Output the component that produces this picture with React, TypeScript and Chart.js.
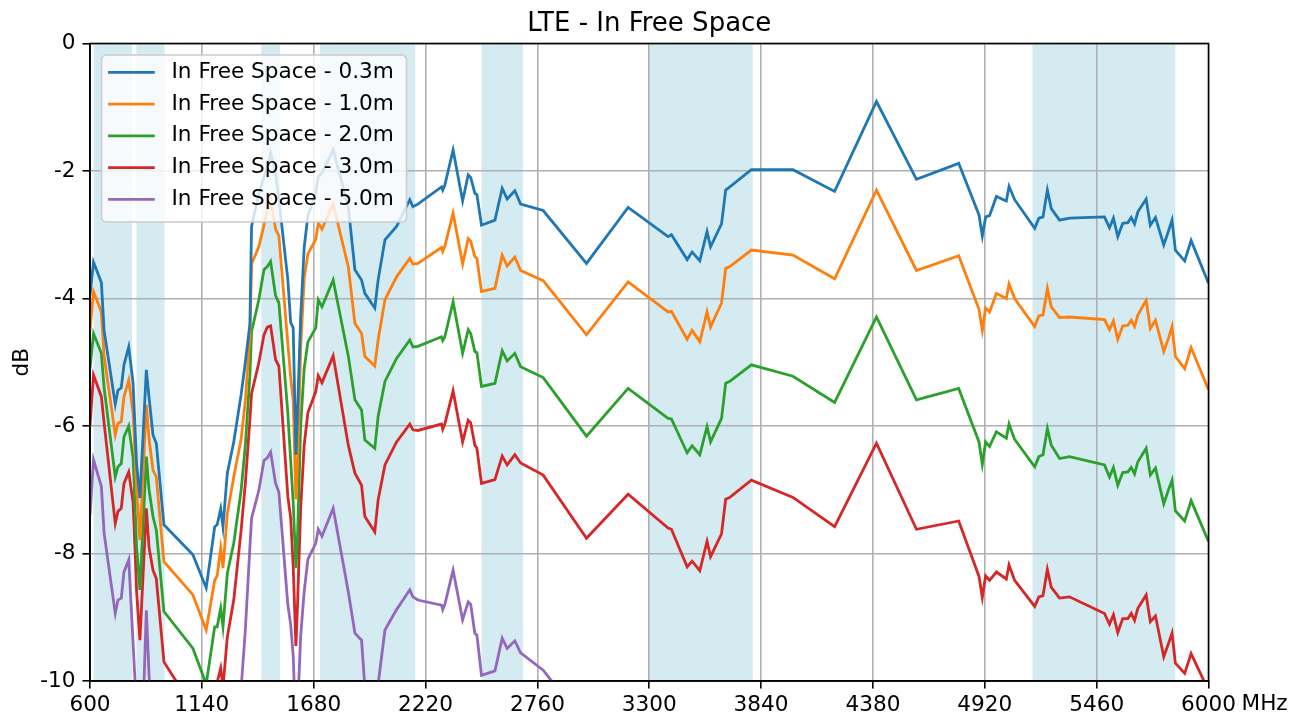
import React, { useEffect, useRef } from "react";
import { Chart, registerables } from "chart.js";

Chart.register(...registerables);

// Measurement frequencies (MHz)
const freqs = [
  600, 617, 655, 668, 722, 735, 751, 764, 787, 808,
  825, 841, 872, 885, 904, 920, 957, 1097, 1161, 1202,
  1214, 1231, 1242, 1263, 1294, 1330, 1350, 1372, 1380, 1415,
  1440, 1456, 1472, 1496, 1512, 1555, 1569, 1581, 1594, 1602,
  1617, 1634, 1652, 1690, 1702, 1720, 1774, 1847, 1879, 1911,
  1927, 1975, 1991, 2024, 2080, 2144, 2159, 2183, 2297, 2303,
  2313, 2353, 2399, 2426, 2438, 2458, 2468, 2490, 2555, 2590,
  2614, 2651, 2679, 2788, 2997, 3198, 3391, 3407, 3483, 3507,
  3544, 3579, 3596, 3649, 3669, 3689, 3793, 3994, 4195, 4397,
  4590, 4794, 4892, 4908, 4924, 4943, 4976, 5024, 5037, 5064,
  5161, 5181, 5201, 5222, 5241, 5281, 5329, 5498, 5522, 5541,
  5562, 5586, 5611, 5627, 5643, 5659, 5699, 5719, 5744, 5784,
  5808, 5824, 5840, 5885, 5916, 6000,
];

// Received level relative to reference (dB) per distance
const loss03m = [
  -3.95, -3.43, -3.75, -4.5, -5.66, -5.44, -5.4, -5.04, -4.76, -5.33,
  -6.6, -7.13, -5.12, -5.55, -6.14, -6.27, -7.55, -8.02, -8.54, -7.58,
  -7.55, -7.3, -7.58, -6.74, -6.25, -5.5, -5.0, -4.4, -2.87, -2.35,
  -2.1, -1.95, -1.72, -2.03, -2.45, -3.7, -4.38, -4.46, -6.45, -5.75,
  -4.3, -3.2, -2.7, -2.35, -2.09, -2.03, -1.67, -2.56, -3.55, -3.71,
  -3.92, -4.15, -3.71, -3.08, -2.87, -2.45, -2.56, -2.52, -2.25, -2.3,
  -2.22, -1.67, -2.47, -2.06, -2.1, -2.35, -2.37, -2.85, -2.77, -2.27,
  -2.44, -2.31, -2.52, -2.62, -3.45, -2.57, -3.03, -3.0, -3.39, -3.27,
  -3.41, -2.95, -3.19, -2.83, -2.3, -2.25, -1.98, -1.98, -2.32, -0.91,
  -2.13, -1.88, -2.69, -3.02, -2.72, -2.7, -2.4, -2.47, -2.24, -2.45,
  -2.9, -2.74, -2.72, -2.3, -2.59, -2.77, -2.74, -2.72, -2.89, -2.74,
  -3.03, -2.82, -2.81, -2.73, -2.83, -2.64, -2.44, -2.85, -2.73, -3.16,
  -2.93, -2.77, -3.24, -3.41, -3.09, -3.76,
];

const loss10m = [
  -4.5, -3.89, -4.21, -4.9, -6.14, -5.96, -5.93, -5.54, -5.28, -5.8,
  -7.0, -7.79, -5.67, -6.2, -6.69, -6.8, -8.13, -8.65, -9.2, -8.42,
  -8.35, -7.92, -8.23, -7.37, -6.8, -6.2, -5.6, -4.6, -3.46, -3.19,
  -2.85, -2.6, -2.45, -2.91, -3.02, -4.7, -5.24, -5.6, -7.15, -6.6,
  -4.8, -3.68, -3.3, -3.07, -2.82, -2.91, -2.52, -3.5, -4.39, -4.55,
  -4.91, -5.06, -4.65, -4.02, -3.66, -3.37, -3.46, -3.45, -3.2, -3.26,
  -3.18, -2.66, -3.46, -3.06, -3.1, -3.34, -3.37, -3.89, -3.84, -3.32,
  -3.49, -3.35, -3.56, -3.72, -4.57, -3.74, -4.21, -4.2, -4.64, -4.5,
  -4.68, -4.21, -4.45, -4.07, -3.53, -3.5, -3.24, -3.32, -3.69, -2.3,
  -3.56, -3.33, -4.17, -4.5, -4.15, -4.21, -3.92, -4.0, -3.77, -4.0,
  -4.44, -4.27, -4.26, -3.84, -4.13, -4.3, -4.29, -4.33, -4.49, -4.35,
  -4.64, -4.43, -4.42, -4.34, -4.44, -4.26, -4.03, -4.47, -4.34, -4.83,
  -4.61, -4.44, -4.91, -5.1, -4.77, -5.43,
];

const loss20m = [
  -5.1, -4.55, -4.86, -5.4, -6.8, -6.64, -6.59, -6.17, -6.0, -6.5,
  -7.9, -8.57, -6.48, -7.0, -7.42, -7.63, -8.91, -9.49, -10.05, -9.15,
  -9.15, -8.86, -9.15, -8.31, -7.84, -7.0, -6.3, -5.2, -4.52, -4.02,
  -3.55, -3.5, -3.42, -3.96, -4.07, -5.79, -6.55, -7.2, -8.23, -7.73,
  -6.0, -5.1, -4.68, -4.46, -4.02, -4.13, -3.71, -4.9, -5.59, -5.75,
  -6.22, -6.35, -5.85, -5.3, -4.94, -4.65, -4.76, -4.75, -4.6, -4.66,
  -4.6, -4.05, -4.86, -4.49, -4.55, -4.83, -4.85, -5.38, -5.33, -4.82,
  -4.98, -4.86, -5.07, -5.24, -6.16, -5.41, -5.88, -5.89, -6.42, -6.31,
  -6.45, -6.01, -6.25, -5.88, -5.33, -5.3, -5.04, -5.22, -5.63, -4.29,
  -5.59, -5.41, -6.25, -6.6, -6.25, -6.32, -6.09, -6.19, -5.97, -6.21,
  -6.64, -6.48, -6.45, -6.04, -6.3, -6.51, -6.48, -6.61, -6.8, -6.65,
  -6.93, -6.73, -6.72, -6.65, -6.75, -6.56, -6.35, -6.77, -6.66, -7.22,
  -6.99, -6.85, -7.33, -7.49, -7.17, -7.81,
];

const loss30m = [
  -6.0, -5.2, -5.54, -5.95, -7.53, -7.34, -7.29, -6.9, -6.72, -7.2,
  -8.6, -9.36, -7.29, -7.9, -8.26, -8.39, -9.7, -10.42, -10.9, -10.3,
  -10.02, -9.8, -10.1, -9.31, -8.73, -7.62, -6.9, -5.9, -5.49, -5.01,
  -4.57, -4.45, -4.43, -4.96, -5.06, -7.1, -7.45, -8.2, -9.45, -8.8,
  -7.3, -6.3, -5.79, -5.46, -5.21, -5.32, -4.9, -6.3, -6.74, -6.93,
  -7.42, -7.66, -7.16, -6.61, -6.25, -5.97, -6.06, -6.07, -5.97, -6.05,
  -5.97, -5.45, -6.25, -5.91, -5.95, -6.3, -6.35, -6.9, -6.84, -6.47,
  -6.61, -6.45, -6.58, -6.77, -7.76, -7.07, -7.6, -7.62, -8.21, -8.12,
  -8.27, -7.81, -8.05, -7.69, -7.15, -7.12, -6.85, -7.12, -7.58, -6.27,
  -7.62, -7.49, -8.36, -8.69, -8.35, -8.42, -8.29, -8.4, -8.18, -8.42,
  -8.83, -8.68, -8.66, -8.25, -8.53, -8.7, -8.68, -8.94, -9.11, -8.96,
  -9.24, -9.02, -9.02, -8.94, -9.05, -8.86, -8.65, -9.07, -8.98, -9.62,
  -9.4, -9.25, -9.72, -9.88, -9.57, -10.15,
];

// The 5.0 m trace drops out of range above ~3 GHz
const loss50m = [
  -7.4, -6.53, -6.95, -7.68, -8.94, -8.73, -8.7, -8.29, -8.1, -9.4,
  -10.5, -12.0, -8.89, -9.9, -10.8, -11.0, -12.0, -12.5, -12.8, -12.2,
  -12.0, -11.8, -12.0, -11.8, -11.5, -10.1, -9.2, -7.9, -7.45, -7.01,
  -6.54, -6.5, -6.41, -6.9, -7.04, -8.8, -9.12, -9.6, -10.8, -10.5,
  -9.3, -8.6, -8.09, -7.84, -7.62, -7.73, -7.29, -8.6, -9.25, -9.36,
  -10.1, -10.35, -10.05, -9.2, -8.88, -8.57, -8.68, -8.73, -8.81, -8.88,
  -8.8, -8.26, -9.04, -8.76, -8.8, -9.25, -9.28, -9.91, -9.84, -9.33,
  -9.49, -9.37, -9.56, -9.83, -10.7,
];

const seriesValues = [loss03m, loss10m, loss20m, loss30m, loss50m];
const seriesLabels = [
  "In Free Space - 0.3m",
  "In Free Space - 1.0m",
  "In Free Space - 2.0m",
  "In Free Space - 3.0m",
  "In Free Space - 5.0m",
];
const seriesColors = ["#1f77b4", "#ff7f0e", "#2ca02c", "#d62728", "#9467bd"];

const xTicks = [600, 1140, 1680, 2220, 2760, 3300, 3840, 4380, 4920, 5460, 6000];
const yTicks = [-10, -8, -6, -4, -2, 0];

// LTE operating bands (MHz) shaded behind the traces
const bandStarts = [617, 824, 1427, 1710, 2490, 3300, 5150];
const bandEnds = [803, 960, 1518, 2170, 2690, 3800, 5840];

const chartTitle = "LTE - In Free Space";
const xUnit = "MHz";
const yUnit = "dB";

const FONT = "'DejaVu Sans', sans-serif";
const TEXT_PX = 21.6;

const decorPlugin = {
  id: "decor",
  beforeDraw(chart: any) {
    const { ctx, chartArea: a } = chart;
    const x = chart.scales.x;
    ctx.save();
    ctx.fillStyle = "rgba(173,216,230,0.52)";
    bandStarts.forEach((s, i) => {
      const x1 = x.getPixelForValue(s);
      const x2 = x.getPixelForValue(bandEnds[i]);
      ctx.fillRect(x1, a.top, x2 - x1, a.bottom - a.top);
    });
    ctx.restore();
  },
  afterDraw(chart: any) {
    const { ctx, chartArea: a } = chart;
    ctx.save();

    // axes frame
    ctx.strokeStyle = "#000";
    ctx.lineWidth = 1.6;
    ctx.strokeRect(a.left, a.top, a.right - a.left, a.bottom - a.top);

    // title
    ctx.fillStyle = "#000";
    ctx.font = `26px ${FONT}`;
    ctx.textAlign = "center";
    ctx.textBaseline = "alphabetic";
    ctx.fillText(chartTitle, (a.left + a.right) / 2, 31);

    // axis units
    ctx.font = `${TEXT_PX}px ${FONT}`;
    ctx.textAlign = "left";
    ctx.textBaseline = "middle";
    ctx.fillText(xUnit, a.right + 33, a.bottom + 23);
    ctx.save();
    ctx.translate(22, (a.top + a.bottom) / 2);
    ctx.rotate(-Math.PI / 2);
    ctx.textAlign = "center";
    ctx.fillText(yUnit, 0, 0);
    ctx.restore();

    // legend
    const bx = a.left + 11.5;
    const by = a.top + 11.5;
    const bw = 305;
    const bh = 167;
    ctx.beginPath();
    if (ctx.roundRect) ctx.roundRect(bx, by, bw, bh, 5);
    else ctx.rect(bx, by, bw, bh);
    ctx.fillStyle = "rgba(255,255,255,0.8)";
    ctx.fill();
    ctx.strokeStyle = "#cccccc";
    ctx.lineWidth = 1.5;
    ctx.stroke();

    seriesLabels.forEach((label, i) => {
      const ry = by + 17.3 + i * 31.75;
      ctx.beginPath();
      ctx.moveTo(bx + 6.6, ry);
      ctx.lineTo(bx + 53.3, ry);
      ctx.strokeStyle = seriesColors[i];
      ctx.lineWidth = 2.8;
      ctx.stroke();
      ctx.fillStyle = "#000";
      ctx.textAlign = "left";
      ctx.textBaseline = "middle";
      ctx.fillText(label, bx + 70, ry);
    });

    ctx.restore();
  },
};

export default function App() {
  const ref = useRef<HTMLCanvasElement>(null);

  useEffect(() => {
    const canvas = ref.current;
    if (!canvas) return;

    const datasets = seriesValues.map((vals, i) => ({
      label: seriesLabels[i],
      data: vals.map((v, k) => ({ x: freqs[k], y: v })),
      borderColor: seriesColors[i],
      backgroundColor: seriesColors[i],
      borderWidth: 2.8,
      pointRadius: 0,
      pointHoverRadius: 0,
      tension: 0,
      clip: 0,
      fill: false,
    }));

    const tickFont = { family: FONT, size: TEXT_PX };

    const chart = new Chart(canvas, {
      type: "line",
      data: { datasets },
      options: {
        animation: false,
        responsive: false,
        devicePixelRatio: 1,
        events: [],
        layout: { padding: { top: 43.5, right: 94.5, left: 0, bottom: 0 } },
        plugins: {
          legend: { display: false },
          title: { display: false },
          tooltip: { enabled: false },
        },
        scales: {
          x: {
            type: "linear",
            min: 600,
            max: 6000,
            afterBuildTicks: (s: any) => {
              s.ticks = xTicks.map((v) => ({ value: v }));
            },
            afterFit: (s: any) => {
              s.height = 39;
            },
            grid: {
              color: "#b0b0b0",
              lineWidth: 1.6,
              drawTicks: true,
              tickLength: 7.5,
              tickColor: "#000",
              tickWidth: 1.6,
            },
            border: { display: true, color: "#000", width: 1.6 },
            ticks: {
              autoSkip: false,
              maxRotation: 0,
              minRotation: 0,
              padding: 4,
              color: "#000",
              font: tickFont,
              callback: (v: any) => String(v),
            },
          },
          y: {
            type: "linear",
            min: -10,
            max: 0,
            afterBuildTicks: (s: any) => {
              s.ticks = yTicks.map((v) => ({ value: v }));
            },
            afterFit: (s: any) => {
              s.width = 90;
            },
            grid: {
              color: "#b0b0b0",
              lineWidth: 1.6,
              drawTicks: true,
              tickLength: 7.5,
              tickColor: "#000",
              tickWidth: 1.6,
            },
            border: { display: true, color: "#000", width: 1.6 },
            ticks: {
              padding: 7,
              color: "#000",
              font: tickFont,
              callback: (v: any) => String(v),
            },
          },
        },
      },
      plugins: [decorPlugin],
    } as any);

    return () => chart.destroy();
  }, []);

  return (
    <div
      style={{
        position: "fixed",
        left: 0,
        top: 0,
        width: 1303,
        height: 720,
        background: "#fff",
      }}
    >
      <canvas ref={ref} width={1303} height={720} style={{ display: "block" }} />
    </div>
  );
}
